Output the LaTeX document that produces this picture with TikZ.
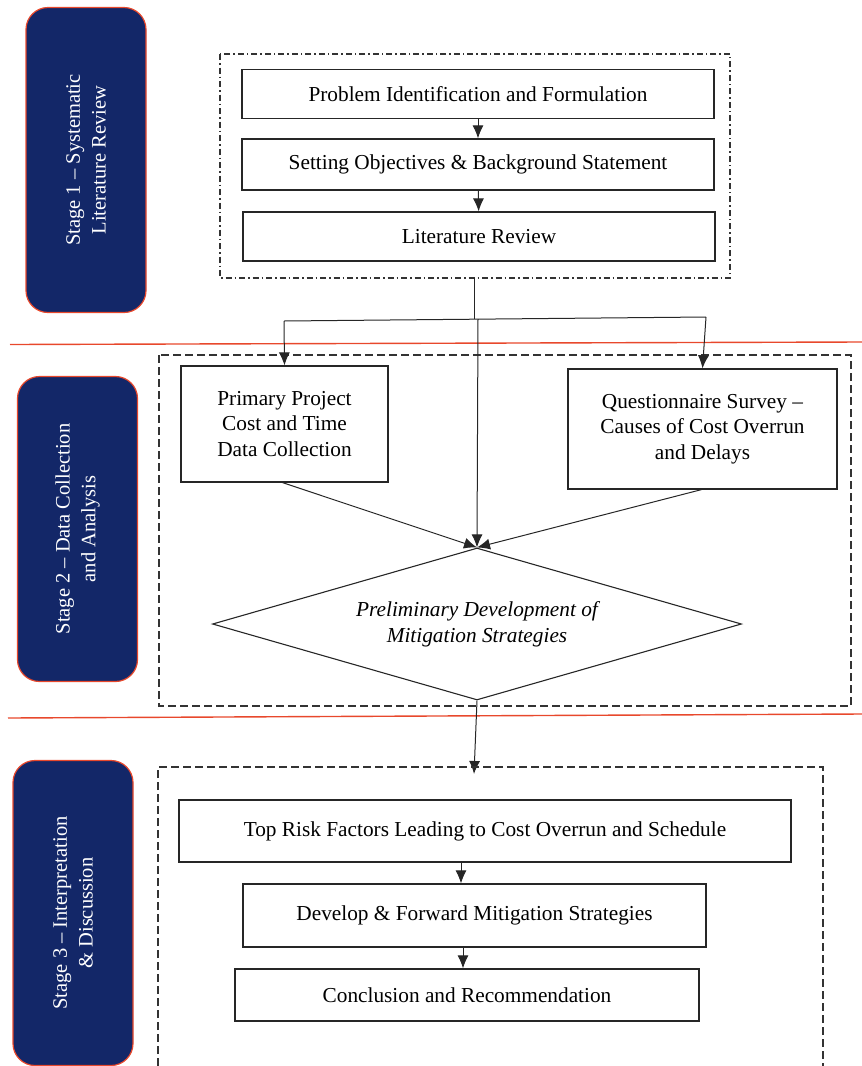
\documentclass[tikz,border=0pt]{standalone}
\usepackage{fontspec}
\setmainfont{Liberation Serif}
\usetikzlibrary{shapes.geometric, arrows.meta}

\definecolor{stagenavy}{RGB}{19,39,104}
\definecolor{stagered}{RGB}{232,72,44}

\begin{document}
\begin{tikzpicture}[
		x=1pt, y=-1pt,
		stage/.style={draw=stagered, line width=1.2pt, fill=stagenavy, rounded corners=22pt, rotate=90, minimum width=305pt, minimum height=120pt, align=center, text=white, inner sep=0pt, font=\fontsize{20.5}{25.7}\selectfont},
		proc/.style={draw=black!85, line width=1.2pt, minimum height=49pt, align=center, inner sep=0pt, font=\fontsize{21.3}{25.7}\selectfont},
		decision/.style={diamond, aspect=3.48, draw=black!85, line width=1.1pt, minimum width=529pt, minimum height=152pt, align=center, inner sep=0pt, font=\itshape\fontsize{21.3}{25.7}\selectfont},
		flow/.style={draw=black!85, line width=1pt, -{Latex[length=13pt, width=11pt]}},
		link/.style={draw=black!85, line width=1pt},
		review frame/.style={draw=black!80, line width=1.2pt, dash pattern=on 6pt off 3pt on 1.5pt off 3pt},
		group frame/.style={draw=black!80, line width=1.2pt, dash pattern=on 8pt off 4pt},
		stage rule/.style={draw=stagered, line width=1.4pt}
		]
		
		\useasboundingbox (0,0) rectangle (862,1066);
		
		% =========================================================
		% Stage labels and separators
		% =========================================================
		\node[stage] (stage1) at (86,160) {Stage 1 – Systematic\\Literature Review};
		\node[stage] (stage2) at (77.5,529) {Stage 2 – Data Collection\\and Analysis};
		\node[stage] (stage3) at (73,913) {Stage 3 – Interpretation\\\& Discussion};
		
		\draw[stage rule] (10,344.5) -- (862,342);
		\draw[stage rule] (8,718) -- (862,714);
		
		% =========================================================
		% Stage 1: Systematic literature review
		% =========================================================
		\draw[review frame] (220,54) rectangle (730,278);
		\node[proc, minimum width=472pt] (problem) at (478,94) {Problem Identification and Formulation};
		\node[proc, minimum width=472pt, minimum height=51pt] (objectives) at (478,164.5) {Setting Objectives \& Background Statement};
		\node[proc, minimum width=472pt] (litreview) at (479,236.5) {Literature Review};
		
		\draw[flow] (problem) -- (objectives);
		\draw[flow] (objectives) -- (litreview);
		
		% Fork down to stage 2
		\coordinate (reviewout) at (474,278);
		\coordinate (fork) at (474,319);
		\coordinate (forkL) at (284,321);
		\coordinate (forkM) at (478,319);
		\coordinate (forkR) at (706,317);
		\draw[link] (reviewout) -- (fork);
		\draw[link] (forkL) -- (forkR);
		
		% =========================================================
		% Stage 2: Data collection and analysis
		% =========================================================
		\draw[group frame] (159,355) rectangle (851,706);
		\node[proc, minimum width=207pt, minimum height=116pt] (primary) at (284.5,424) {Primary Project\\Cost and Time\\Data Collection};
		\node[proc, minimum width=269pt, minimum height=120pt] (survey) at (702.5,429) {Questionnaire Survey –\\Causes of Cost Overrun\\and Delays};
		\node[decision] (prelim) at (477,624) {Preliminary Development of\\Mitigation Strategies};
		
		\draw[flow] (forkL) -- (primary.north);
		\draw[flow] (forkR) -- (survey.north);
		\draw[flow] (forkM) -- (prelim.north);
		\draw[flow] ([xshift=-2pt]primary.south) -- (prelim.north);
		\draw[flow] ([xshift=-1pt]survey.south) -- (prelim.north);
		
		% =========================================================
		% Stage 3: Interpretation and discussion
		% =========================================================
		\coordinate (synthin) at (474,774);
		\draw[flow] (prelim.south) -- (synthin);
		
		\draw[group frame] (158,1066) -- (158,767) -- (823,767) -- (823,1066);
		\node[proc, minimum width=612pt, minimum height=62pt] (toprisk) at (485,831) {Top Risk Factors Leading to Cost Overrun and Schedule};
		\node[proc, minimum width=463pt, minimum height=63pt] (develop) at (474.5,915.5) {Develop \& Forward Mitigation Strategies};
		\node[proc, minimum width=464pt, minimum height=52pt] (conclusion) at (467,995) {Conclusion and Recommendation};
		
		\draw[flow] ([xshift=-24pt]toprisk.south) -- ([xshift=-13.5pt]develop.north);
		\draw[flow] ([xshift=-11.5pt]develop.south) -- ([xshift=-4pt]conclusion.north);
		
	\end{tikzpicture}
\end{document}
